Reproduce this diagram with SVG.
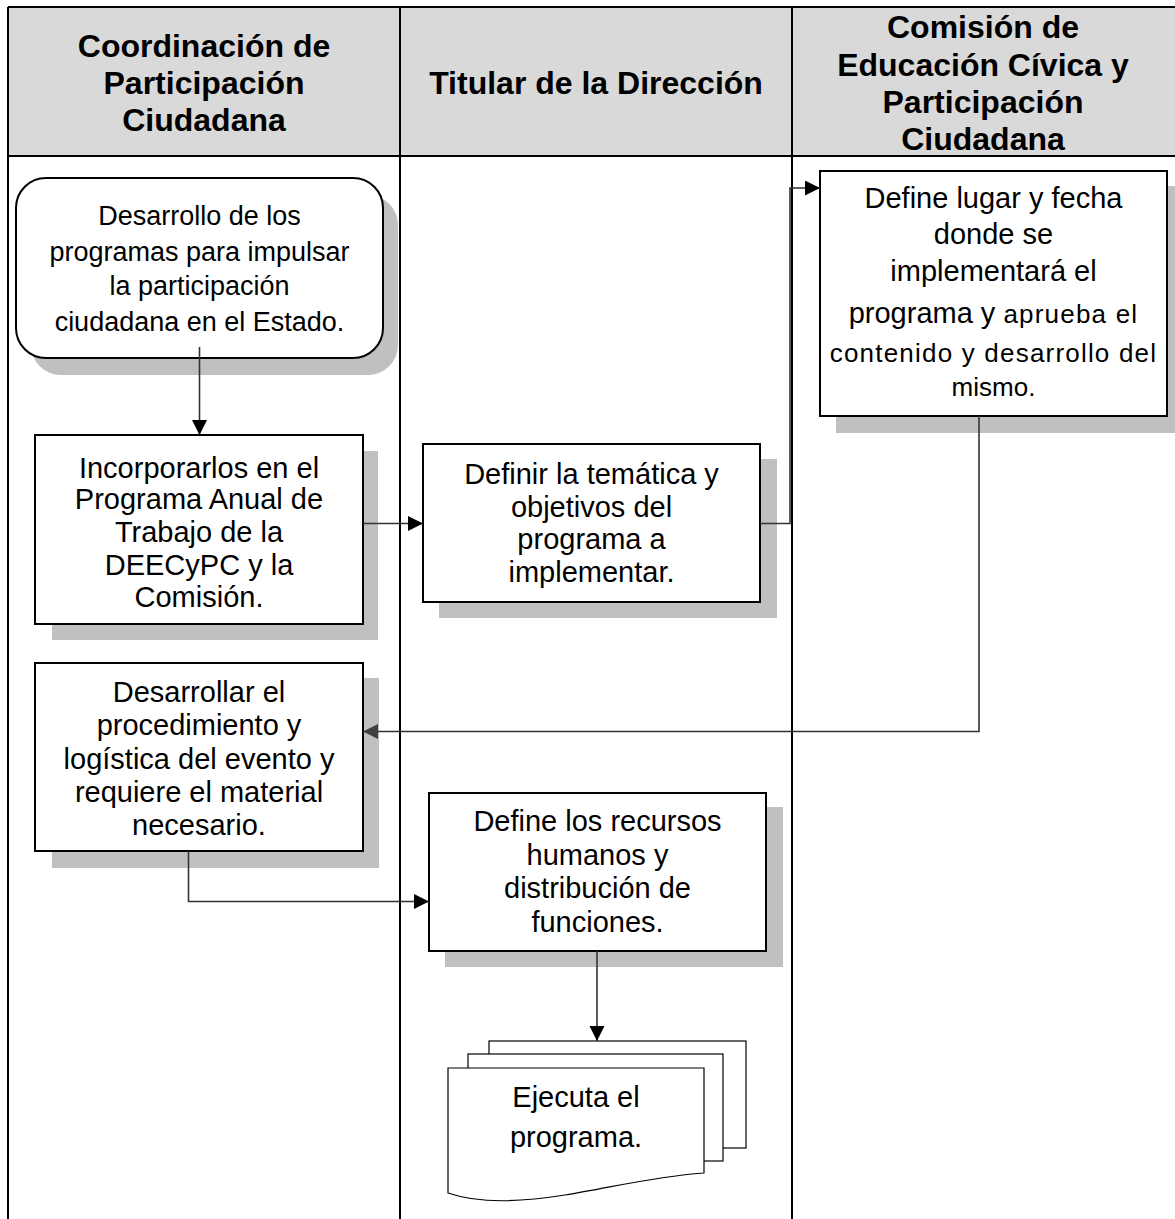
<svg xmlns="http://www.w3.org/2000/svg" width="1175" height="1219" viewBox="0 0 1175 1219">
<style>
.hdr{font-family:"Liberation Sans",Arial,sans-serif;font-weight:bold;font-size:32px;fill:#000;text-anchor:middle}
.txt{font-family:"Liberation Sans",Arial,sans-serif;font-size:29px;fill:#000;text-anchor:middle}
.sm{font-size:26px;letter-spacing:1.2px}
.box{fill:#fff;stroke:#000;stroke-width:2}
.shd{fill:#c0c0c0}
.doc{fill:#fff;stroke:#000;stroke-width:1.2}
.lane{stroke:#000;stroke-width:2;fill:none}
.con{fill:none;stroke:#333;stroke-width:1.6}
</style>
<defs>
<marker id="arr" markerUnits="userSpaceOnUse" markerWidth="16" markerHeight="16" refX="15" refY="7.5" orient="auto">
<path d="M0,0 L15,7.5 L0,15 Z" fill="#000"/>
</marker>
<marker id="arrg" markerUnits="userSpaceOnUse" markerWidth="16" markerHeight="16" refX="15" refY="7.5" orient="auto">
<path d="M0,0 L15,7.5 L0,15 Z" fill="#404040"/>
</marker>
</defs>
<rect width="1175" height="1219" fill="#fff"/>
<g id="lanes">
<rect x="8" y="7" width="1167" height="149" fill="#d9d9d9"/>
<path class="lane" d="M8,7 H1175 M8,156 H1175 M8,7 V1219 M400,7 V1219 M792,7 V1219"/>
<text class="hdr" x="204" y="57">Coordinación de</text>
<text class="hdr" x="204" y="94">Participación</text>
<text class="hdr" x="204" y="131">Ciudadana</text>
<text class="hdr" x="596" y="94">Titular de la Dirección</text>
<text class="hdr" x="983" y="38">Comisión de</text>
<text class="hdr" x="983" y="76">Educación Cívica y</text>
<text class="hdr" x="983" y="113">Participación</text>
<text class="hdr" x="983" y="150">Ciudadana</text>
</g>
<g id="n1">
<rect class="shd" x="31" y="195" width="367" height="180" rx="30"/>
<rect class="box" x="16" y="178" width="367" height="180" rx="30"/>
<text class="txt" style="font-size:27px" x="199.5" y="225">Desarrollo de los</text>
<text class="txt" style="font-size:27px" x="199.5" y="261">programas para impulsar</text>
<text class="txt" style="font-size:27px" x="199.5" y="295">la participación</text>
<text class="txt" style="font-size:27px" x="199.5" y="331">ciudadana en el Estado.</text>
</g>
<g id="n2">
<rect class="shd" x="52" y="451" width="326" height="189"/>
<rect class="box" x="35" y="435" width="328" height="189"/>
<text class="txt" x="199" y="478">Incorporarlos en el</text>
<text class="txt" x="199" y="509">Programa Anual de</text>
<text class="txt" x="199" y="542">Trabajo de la</text>
<text class="txt" x="199" y="575">DEECyPC y la</text>
<text class="txt" x="199" y="607">Comisión.</text>
</g>
<g id="n3">
<rect class="shd" x="439" y="459" width="338" height="159"/>
<rect class="box" x="423" y="444" width="337" height="158"/>
<text class="txt" x="591.5" y="484">Definir la temática y</text>
<text class="txt" x="591.5" y="517">objetivos del</text>
<text class="txt" x="591.5" y="549">programa a</text>
<text class="txt" x="591.5" y="582">implementar.</text>
</g>
<g id="n4">
<rect class="shd" x="836" y="186" width="347" height="247"/>
<rect class="box" x="820" y="171" width="347" height="245"/>
<text class="txt" x="993.5" y="208">Define lugar y fecha</text>
<text class="txt" x="993.5" y="244">donde se</text>
<text class="txt" x="993.5" y="281">implementará el</text>
<text class="txt" x="993.5" y="323">programa y <tspan class="sm">aprueba el</tspan></text>
<text class="txt sm" x="993.5" y="362">contenido y desarrollo del</text>
<text class="txt" style="font-size:26px" x="993.5" y="396">mismo.</text>
</g>
<g id="n5">
<rect class="shd" x="52" y="678" width="327" height="190"/>
<rect class="box" x="35" y="663" width="328" height="188"/>
<text class="txt" x="199" y="702">Desarrollar el</text>
<text class="txt" x="199" y="735">procedimiento y</text>
<text class="txt" x="199" y="769">logística del evento y</text>
<text class="txt" x="199" y="802">requiere el material</text>
<text class="txt" x="199" y="835">necesario.</text>
</g>
<g id="n6">
<rect class="shd" x="445" y="807" width="338" height="160"/>
<rect class="box" x="429" y="793" width="337" height="158"/>
<text class="txt" x="597.5" y="831">Define los recursos</text>
<text class="txt" x="597.5" y="865">humanos y</text>
<text class="txt" x="597.5" y="898">distribución de</text>
<text class="txt" x="597.5" y="932">funciones.</text>
</g>
<g id="n7">
<rect class="doc" x="489" y="1041" width="257" height="107"/>
<rect class="doc" x="468" y="1054" width="255" height="107"/>
<path class="doc" d="M448,1068 H704 V1173 C650,1177 610,1188 565,1195 C520,1202 480,1204 448,1193 Z"/>
<text class="txt" x="576" y="1107">Ejecuta el</text>
<text class="txt" x="576" y="1147">programa.</text>
</g>
<g id="connectors">
<path class="con" d="M199.5,347 V435" stroke="#000" marker-end="url(#arr)"/>
<path class="con" d="M363,523.5 H423" marker-end="url(#arr)"/>
<path class="con" d="M760,523.5 H790 V188 H820" marker-end="url(#arr)"/>
<path class="con" d="M979,416 V731.5 H363" marker-end="url(#arrg)"/>
<path class="con" d="M188.5,851 V901.5 H429" marker-end="url(#arr)"/>
<path class="con" d="M597,951 V1041" marker-end="url(#arr)"/>
</g>
</svg>
